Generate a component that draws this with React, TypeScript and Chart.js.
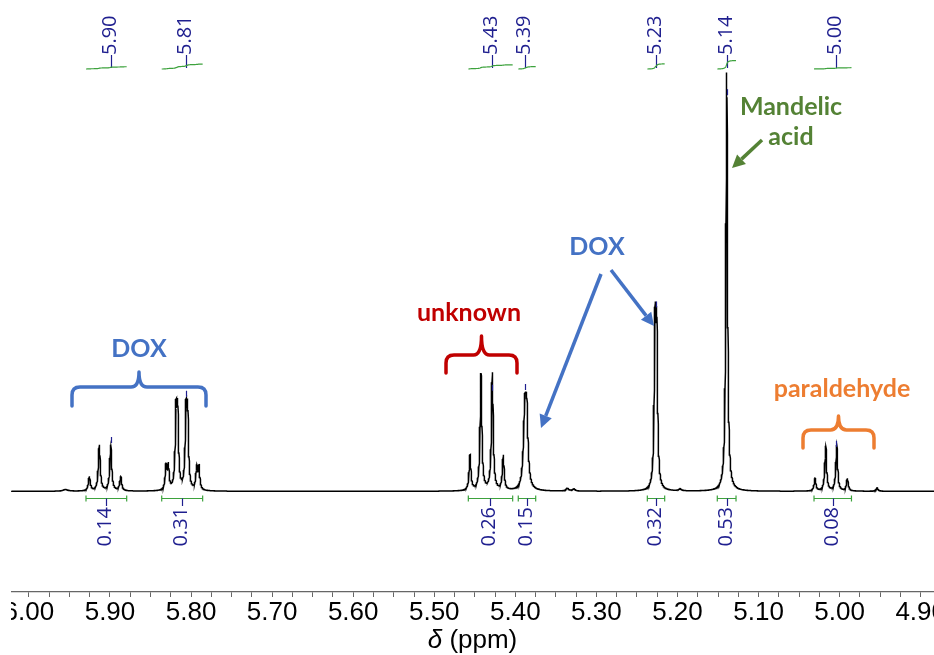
import { useEffect, useRef } from "react";
import { Chart, registerables } from "chart.js";

Chart.register(...registerables);

// Visible window of the chemical-shift axis (ppm), drawn high-to-low
const PPM_LEFT = 6.0221;
const PPM_RIGHT = 4.8836;
const MAJOR_TICKS = [6.0, 5.9, 5.8, 5.7, 5.6, 5.5, 5.4, 5.3, 5.2, 5.1, 5.0, 4.9];

// Vertical window in intensity units (tallest line = 100)
const Y_MIN = -24.16;
const Y_MAX = 117.94;

// Resolved lines of the 1H spectrum: shift (ppm), height, half-width at half-height (ppm)
const LINE_PPM = [
  5.9255, 5.9132, 5.8991, 5.8868,
  5.8309, 5.8281, 5.8186, 5.8165, 5.8063, 5.8042, 5.7931, 5.7902,
  5.4559, 5.4424, 5.4284, 5.4149,
  5.3884, 5.386,
  5.2277, 5.2256,
  5.1393,
  5.0304, 5.0172, 5.0036, 4.9905,
  5.955, 5.336, 5.328, 5.197, 4.954,
];
const LINE_HEIGHT = [
  3.4, 11.0, 11.0, 3.4,
  5.6, 5.6, 17.4, 17.4, 17.4, 17.4, 5.3, 5.3,
  8.5, 28.0, 28.2, 8.3,
  16.6, 16.6,
  36.5, 35.0,
  100.5,
  3.0, 10.8, 11.0, 3.0,
  0.4, 0.7, 0.5, 0.5, 0.8,
];
const LINE_HWHM = [
  0.0014, 0.0014, 0.0014, 0.0014,
  0.0012, 0.0012, 0.0012, 0.0012, 0.0012, 0.0012, 0.0012, 0.0012,
  0.0013, 0.0013, 0.0013, 0.0013,
  0.0019, 0.0019,
  0.0012, 0.0012,
  0.0012,
  0.0013, 0.0013, 0.0013, 0.0013,
  0.004, 0.002, 0.002, 0.002, 0.0015,
];

// Peak picks printed above the trace
const PICK_PPM = [5.899, 5.806, 5.429, 5.388, 5.226, 5.139, 5.004];
const PICK_LABELS = ["5.90", "5.81", "5.43", "5.39", "5.23", "5.14", "5.00"];

// Integration regions (ppm) and their relative areas
const INT_FROM = [5.9296, 5.8362, 5.458, 5.3964, 5.2372, 5.1509, 5.0316];
const INT_TO = [5.8794, 5.7857, 5.4033, 5.3749, 5.2158, 5.1278, 4.9854];
const INT_VALUES = [0.14, 0.31, 0.26, 0.15, 0.32, 0.53, 0.08];

const NAVY = "#1f1f8f";
const INT_GREEN = "#3da23d";
const BLUE = "#4472c4";
const RED = "#c00000";
const OLIVE = "#548235";
const ORANGE = "#ed7d31";

function intensity(ppm: number): number {
  let s = 0;
  for (let i = 0; i < LINE_PPM.length; i++) {
    const d = (ppm - LINE_PPM[i]) / LINE_HWHM[i];
    s += LINE_HEIGHT[i] / (1 + d * d);
  }
  return s;
}

function buildTrace() {
  const xs: number[] = [];
  for (let p = PPM_RIGHT; p <= PPM_LEFT; p += 0.0002) xs.push(p);
  LINE_PPM.forEach((p) => xs.push(p));
  xs.sort((a, b) => a - b);
  return xs.map((x) => ({ x, y: intensity(x) }));
}

function tickValues() {
  const out: number[] = [];
  for (let i = 0; i < MAJOR_TICKS.length; i++) {
    out.push(MAJOR_TICKS[i]);
    if (i < MAJOR_TICKS.length - 1) {
      const a = MAJOR_TICKS[i];
      const b = MAJOR_TICKS[i + 1];
      for (let k = 1; k < 4; k++) out.push(a + ((b - a) * k) / 4);
    }
  }
  return out.filter((v) => v >= PPM_RIGHT && v <= PPM_LEFT);
}

function drawBrace(
  ctx: CanvasRenderingContext2D,
  x1: number,
  x2: number,
  yTop: number,
  legDrop: number,
  cusp: number,
  color: string
) {
  const xm = (x1 + x2) / 2;
  const r = 8;
  ctx.save();
  ctx.strokeStyle = color;
  ctx.lineWidth = 3.5;
  ctx.lineCap = "round";
  ctx.lineJoin = "round";
  ctx.beginPath();
  ctx.moveTo(x1, yTop + legDrop);
  ctx.lineTo(x1, yTop + r);
  ctx.quadraticCurveTo(x1, yTop, x1 + r, yTop);
  ctx.lineTo(xm - r, yTop);
  ctx.quadraticCurveTo(xm, yTop, xm, yTop - cusp);
  ctx.quadraticCurveTo(xm, yTop, xm + r, yTop);
  ctx.lineTo(x2 - r, yTop);
  ctx.quadraticCurveTo(x2, yTop, x2, yTop + r);
  ctx.lineTo(x2, yTop + legDrop);
  ctx.stroke();
  ctx.restore();
}

function drawArrow(
  ctx: CanvasRenderingContext2D,
  x0: number,
  y0: number,
  x1: number,
  y1: number,
  color: string
) {
  const ang = Math.atan2(y1 - y0, x1 - x0);
  const head = 13;
  const half = 6.5;
  const bx = x1 - head * Math.cos(ang);
  const by = y1 - head * Math.sin(ang);
  ctx.save();
  ctx.strokeStyle = color;
  ctx.fillStyle = color;
  ctx.lineWidth = 3.5;
  ctx.beginPath();
  ctx.moveTo(x0, y0);
  ctx.lineTo(bx, by);
  ctx.stroke();
  ctx.beginPath();
  ctx.moveTo(x1, y1);
  ctx.lineTo(bx + half * Math.sin(ang), by - half * Math.cos(ang));
  ctx.lineTo(bx - half * Math.sin(ang), by + half * Math.cos(ang));
  ctx.closePath();
  ctx.fill();
  ctx.restore();
}

function label(
  ctx: CanvasRenderingContext2D,
  text: string,
  x: number,
  y: number,
  color: string
) {
  ctx.save();
  ctx.fillStyle = color;
  ctx.font = "bold 25px Lato, 'Open Sans', sans-serif";
  ctx.textAlign = "center";
  ctx.textBaseline = "middle";
  ctx.fillText(text, x, y);
  ctx.restore();
}

const spectrumDecor = {
  id: "spectrumDecor",
  afterDatasetsDraw(chart: Chart) {
    const ctx = chart.ctx;
    const xs = chart.scales.x;
    const ys = chart.scales.y;
    const px = (v: number) => xs.getPixelForValue(v);
    const py = (v: number) => ys.getPixelForValue(v);

    // peak-pick labels, their leader ticks and markers over the picked tops
    ctx.save();
    ctx.strokeStyle = NAVY;
    ctx.fillStyle = NAVY;
    ctx.lineWidth = 1.2;
    ctx.font = "20px 'Open Sans', sans-serif";
    PICK_PPM.forEach((p, i) => {
      const x = Math.round(px(p)) + 0.5;
      ctx.beginPath();
      ctx.moveTo(x, 55);
      ctx.lineTo(x, 68);
      ctx.stroke();
      const top = py(intensity(p));
      ctx.beginPath();
      ctx.moveTo(x, top - 8);
      ctx.lineTo(x, top - 2);
      ctx.stroke();
      ctx.save();
      ctx.translate(x - 1, 55);
      ctx.rotate(-Math.PI / 2);
      ctx.textAlign = "left";
      ctx.textBaseline = "middle";
      ctx.fillText(PICK_LABELS[i], 0, 0);
      ctx.restore();
    });
    ctx.restore();

    // integral traces (top) and integration brackets with values (below baseline)
    INT_FROM.forEach((a, i) => {
      const b = INT_TO[i];
      const n = 60;
      const cum: number[] = [0];
      for (let k = 1; k <= n; k++) {
        const p = a + ((b - a) * k) / n;
        cum.push(cum[k - 1] + intensity(p));
      }
      const total = cum[n] || 1;
      const rise = INT_VALUES[i] * 16;
      ctx.save();
      ctx.strokeStyle = INT_GREEN;
      ctx.lineWidth = 1.2;
      ctx.beginPath();
      for (let k = 0; k <= n; k++) {
        const p = a + ((b - a) * k) / n;
        const y = 69 - (rise * cum[k]) / total;
        if (k === 0) ctx.moveTo(px(p), y);
        else ctx.lineTo(px(p), y);
      }
      ctx.stroke();

      const xa = px(a);
      const xb = px(b);
      const yb = 498.5;
      ctx.beginPath();
      ctx.moveTo(xa, yb);
      ctx.lineTo(xb, yb);
      ctx.moveTo(xa, yb - 3);
      ctx.lineTo(xa, yb + 3);
      ctx.moveTo(xb, yb - 3);
      ctx.lineTo(xb, yb + 3);
      ctx.stroke();

      const xm = Math.round((xa + xb) / 2) + 0.5;
      ctx.strokeStyle = NAVY;
      ctx.beginPath();
      ctx.moveTo(xm, yb);
      ctx.lineTo(xm, 506);
      ctx.stroke();
      ctx.fillStyle = NAVY;
      ctx.font = "20px 'Open Sans', sans-serif";
      ctx.translate(xm - 1, 507);
      ctx.rotate(-Math.PI / 2);
      ctx.textAlign = "right";
      ctx.textBaseline = "middle";
      ctx.fillText(INT_VALUES[i].toFixed(2), 0, 0);
      ctx.restore();
    });

    // assignments
    label(ctx, "DOX", 128, 349, BLUE);
    drawBrace(ctx, 61, 195, 387, 19, 15, BLUE);

    label(ctx, "unknown", 458, 313, RED);
    drawBrace(ctx, 435, 506, 355, 18, 19, RED);

    label(ctx, "DOX", 586, 247, BLUE);
    drawArrow(ctx, 600, 270, 643, 326, BLUE);
    drawArrow(ctx, 590, 274, 530, 428, BLUE);

    label(ctx, "Mandelic", 780, 107, OLIVE);
    label(ctx, "acid", 780, 137, OLIVE);
    drawArrow(ctx, 751, 140, 721, 168, OLIVE);

    label(ctx, "paraldehyde", 831, 389, ORANGE);
    drawBrace(ctx, 792, 863, 430, 18, 14, ORANGE);

    // axis title: italic delta followed by the unit
    const ca = chart.chartArea;
    const cx = (ca.left + ca.right) / 2;
    ctx.save();
    ctx.fillStyle = "#000";
    ctx.textBaseline = "alphabetic";
    ctx.font = "italic 26px 'Liberation Sans', Arial, sans-serif";
    const w1 = ctx.measureText("δ").width;
    ctx.font = "26px 'Liberation Sans', Arial, sans-serif";
    const w2 = ctx.measureText(" (ppm)").width;
    const start = cx - (w1 + w2) / 2;
    ctx.font = "italic 26px 'Liberation Sans', Arial, sans-serif";
    ctx.textAlign = "left";
    ctx.fillText("δ", start, 648);
    ctx.font = "26px 'Liberation Sans', Arial, sans-serif";
    ctx.fillText(" (ppm)", start + w1, 648);
    ctx.restore();
  },
};

export default function App() {
  const ref = useRef<HTMLCanvasElement | null>(null);

  useEffect(() => {
    if (!ref.current) return;
    const ticks = tickValues();
    const isMajor = (v: number) =>
      MAJOR_TICKS.some((m) => Math.abs(m - v) < 1e-6);
    const chart = new Chart(ref.current, {
      type: "line",
      data: {
        datasets: [
          {
            data: buildTrace(),
            borderColor: "#000",
            borderWidth: 1.5,
            pointRadius: 0,
            tension: 0,
            fill: false,
          },
        ],
      },
      options: {
        animation: false,
        responsive: false,
        parsing: false,
        normalized: true,
        events: [],
        layout: { padding: { left: 0, right: 0, top: 0, bottom: 26 } },
        plugins: {
          legend: { display: false },
          tooltip: { enabled: false },
        },
        scales: {
          x: {
            type: "linear",
            reverse: true,
            min: PPM_RIGHT,
            max: PPM_LEFT,
            afterBuildTicks: (s: any) => {
              s.ticks = ticks.map((v) => ({ value: v }));
            },
            afterFit: (s: any) => {
              s.paddingLeft = 0;
              s.paddingRight = 0;
            },
            ticks: {
              autoSkip: false,
              maxRotation: 0,
              minRotation: 0,
              padding: 3,
              color: "#000",
              font: { family: "'Liberation Sans', Arial, sans-serif", size: 26, lineHeight: 1 },
              callback: (v: any) => (isMajor(Number(v)) ? Number(v).toFixed(2) : ""),
            },
            grid: {
              display: true,
              drawOnChartArea: false,
              drawTicks: true,
              tickLength: 5,
              color: "#666",
              lineWidth: 1,
            },
            border: { display: true, color: "#666", width: 1.3 },
            title: { display: false },
          },
          y: { display: false, min: Y_MIN, max: Y_MAX },
        },
      },
      plugins: [spectrumDecor],
    });
    return () => chart.destroy();
  }, []);

  return (
    <div style={{ position: "fixed", left: 11, top: 0, width: 923, height: 655 }}>
      <canvas ref={ref} width={923} height={655} style={{ display: "block" }} />
    </div>
  );
}
